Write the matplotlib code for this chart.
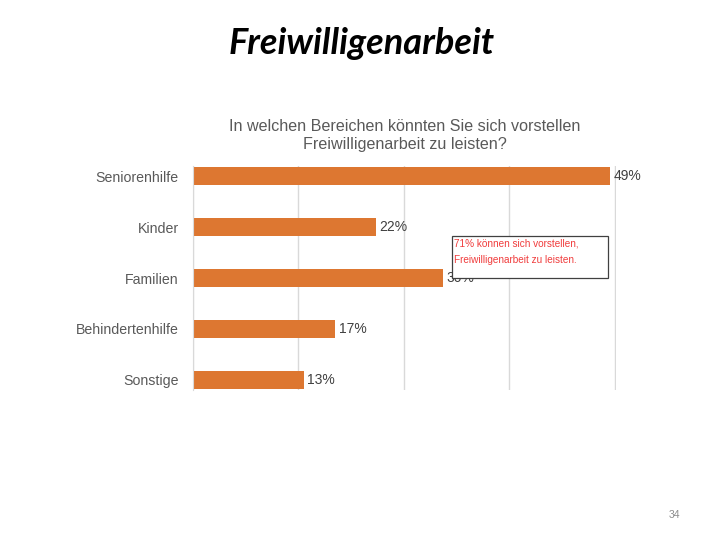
import matplotlib
matplotlib.use("Agg")
import matplotlib.pyplot as plt
from matplotlib.patches import Rectangle

categories = ["Seniorenhilfe", "Kinder", "Familien", "Behindertenhilfe", "Sonstige"]
values = [49.4, 21.7, 29.6, 16.9, 13.2]
grid_ticks = [0, 12.5, 25, 37.5, 50]

W, H = 720, 540
fig = plt.figure(figsize=(7.2, 5.4), dpi=100)
fig.patch.set_facecolor("white")

def fx(px):
    return px / W

def fy(py):
    return 1 - py / H

ax_l, ax_r, ax_t, ax_b = 192.5, 616, 166, 390
ax = fig.add_axes([fx(ax_l), fy(ax_b), fx(ax_r - ax_l), (ax_b - ax_t) / H])

ypos = list(range(len(categories)))
ax.barh(ypos, values, height=0.35, color="#DD7731", zorder=2)
ax.set_xlim(0, 50.1)
ax.set_ylim(4.2, -0.2)
ax.set_xticks(grid_ticks)
ax.set_xticklabels([])
ax.tick_params(axis="x", length=0)
ax.tick_params(axis="y", length=0, pad=10)
ax.set_yticks(ypos)
ax.set_yticklabels(categories, fontsize=10.2, color="#595959", family="Liberation Sans")
ax.grid(axis="x", color="#D9D9D9", linewidth=1, zorder=0)
for s in ["top", "right", "bottom"]:
    ax.spines[s].set_visible(False)
ax.spines["left"].set_color("#D9D9D9")

for y, v in zip(ypos, values):
    ax.text(v + 0.4, y, f"{v:.0f}%", va="center", ha="left", fontsize=10,
            color="#404040", family="Liberation Sans", zorder=3)

# chart title
fig.text(fx(405), fy(135.5), "In welchen Bereichen könnten Sie sich vorstellen\nFreiwilligenarbeit zu leisten?",
         ha="center", va="center", fontsize=11.6, color="#595959", family="Liberation Sans",
         linespacing=1.2)

# slide title
fig.text(fx(362), fy(43.5), "Freiwilligenarbeit", ha="center", va="center", fontsize=26,
         fontweight="bold", fontstyle="italic", family="Lato", color="black")

# annotation box
bx0, by0, bx1, by1 = 452, 236, 608, 278
fig.patches.append(Rectangle((fx(bx0), fy(by1)), fx(bx1 - bx0), (by1 - by0) / H,
                             transform=fig.transFigure, facecolor="white",
                             edgecolor="#404040", linewidth=0.9, zorder=5))
fig.text(fx(454), fy(243), "71% können sich vorstellen,", ha="left", va="center",
         fontsize=7.2, color="#F03C3C", family="Liberation Sans", zorder=6)
fig.text(fx(454), fy(260), "Freiwilligenarbeit zu leisten.", ha="left", va="center",
         fontsize=7.2, color="#F03C3C", family="Liberation Sans", zorder=6)

# page number
fig.text(fx(674), fy(515), "34", ha="center", va="center", fontsize=7.5,
         color="#8C8C8C", family="Liberation Sans")

fig.savefig("out.png", dpi=100)
